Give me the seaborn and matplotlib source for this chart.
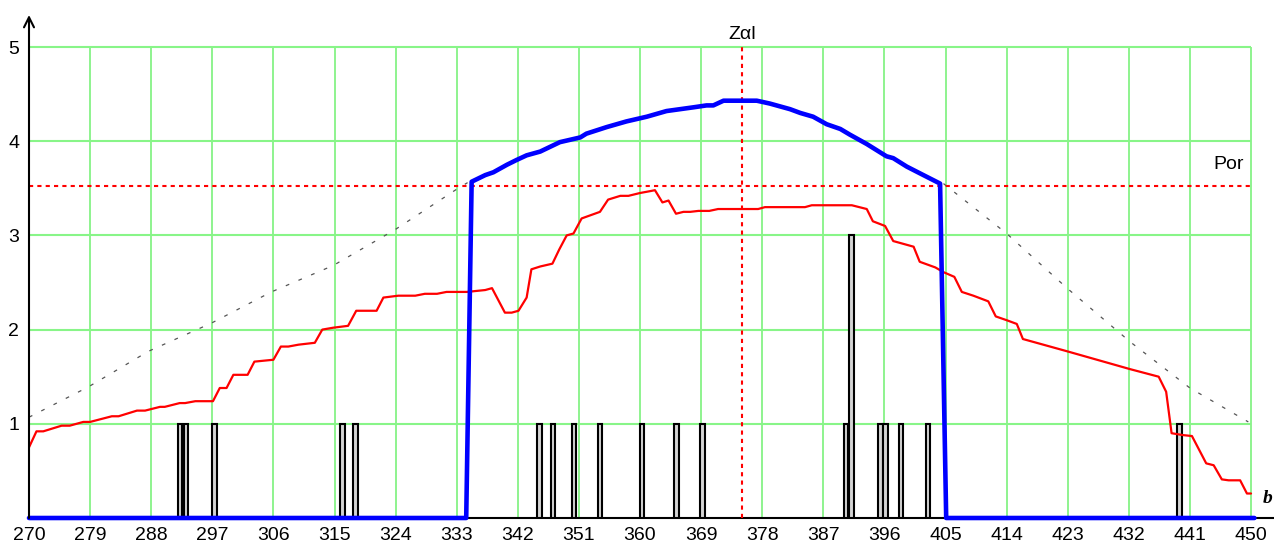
import matplotlib
matplotlib.use("Agg")
import matplotlib.pyplot as plt
import seaborn as sns
import pandas as pd

# ---------------- data ----------------
x_ticks = list(range(270, 451, 9))
y_ticks = [0, 1, 2, 3, 4, 5]
y_ticklabels = ["", "1", "2", "3", "4", "5"]

por_level = 3.525
z_al = 375

blue_x = [270, 334.4, 335.2, 337.2, 338.4, 340.4, 341.8, 343.3, 345.3, 348.2, 351.2, 352.1,
          355.1, 358.0, 361.0, 363.9, 365.9, 367.9, 369.8, 370.8, 372.3, 377.2, 379.1, 382.1,
          383.6, 385.5, 387.5, 389.5, 390.9, 393.4, 396.3, 397.3, 399.3, 401.2, 404.2, 405.1, 450.5]
blue_y = [0, 0, 3.57, 3.64, 3.67, 3.75, 3.80, 3.85, 3.89, 3.99, 4.04, 4.08,
          4.15, 4.21, 4.26, 4.32, 4.34, 4.36, 4.38, 4.38, 4.43, 4.43, 4.40, 4.34,
          4.30, 4.26, 4.18, 4.13, 4.07, 3.97, 3.84, 3.82, 3.73, 3.66, 3.55, 0, 0]

red_x = [270, 271.1, 272.1, 274.8, 276.0, 278.0, 279.0, 282.2, 283.2, 285.9, 287.1, 289.3,
         290.0, 292.2, 293.0, 294.5, 297.1, 298.1, 299.1, 300.1, 302.2, 303.2, 306.0, 307.1,
         308.2, 309.7, 312.1, 313.2, 314.8, 317.0, 318.2, 321.2, 322.2, 324.4, 326.9, 328.3,
         330.1, 331.5, 334.5, 337.2, 338.2, 340.1, 341.1, 342.1, 343.3, 344.0, 345.3, 347.1,
         348.1, 349.2, 350.2, 351.4, 354.1, 355.3, 357.1, 358.3, 360.0, 361.5, 362.2, 363.3,
         364.2, 365.3, 366.4, 367.4, 368.6, 370.2, 371.5, 377.4, 378.4, 384.3, 385.3, 391.2,
         393.4, 394.3, 396.1, 397.3, 400.3, 401.2, 403.5, 404.7, 406.3, 407.4, 409.1, 411.3,
         412.4, 414.0, 415.5, 416.4, 422.9, 432.2, 436.4, 437.5, 438.3, 440.0, 441.3, 443.4,
         444.5, 445.7, 446.7, 448.4, 449.4, 450]
red_y = [0.75, 0.92, 0.92, 0.98, 0.98, 1.02, 1.02, 1.08, 1.08, 1.14, 1.14, 1.18,
         1.18, 1.22, 1.22, 1.24, 1.24, 1.38, 1.38, 1.52, 1.52, 1.66, 1.68, 1.82,
         1.82, 1.84, 1.86, 2.00, 2.02, 2.04, 2.20, 2.20, 2.34, 2.36, 2.36, 2.38,
         2.38, 2.40, 2.40, 2.42, 2.44, 2.18, 2.18, 2.20, 2.34, 2.64, 2.67, 2.70,
         2.85, 3.00, 3.02, 3.18, 3.25, 3.38, 3.42, 3.42, 3.45, 3.47, 3.48, 3.35,
         3.37, 3.23, 3.25, 3.25, 3.26, 3.26, 3.28, 3.28, 3.30, 3.30, 3.32, 3.32,
         3.28, 3.15, 3.10, 2.94, 2.88, 2.72, 2.66, 2.61, 2.56, 2.40, 2.36, 2.30,
         2.14, 2.10, 2.06, 1.90, 1.77, 1.58, 1.50, 1.34, 0.90, 0.88, 0.87, 0.58,
         0.56, 0.41, 0.40, 0.40, 0.26, 0.26]

grey_left_x = [270, 278.7, 287.6, 296.9, 305.7, 314.8, 323.9, 333.2, 334.6]
grey_left_y = [1.07, 1.39, 1.77, 2.07, 2.40, 2.68, 3.06, 3.50, 3.56]
grey_right_x = [404.7, 414.0, 422.9, 432.2, 441.0, 449.6]
grey_right_y = [3.55, 3.02, 2.44, 1.87, 1.38, 1.02]

bar_x = [292.2, 293.15, 297.3, 316.2, 318.1, 345.2, 347.15, 350.25, 354.1, 360.25,
         365.35, 369.2, 390.35, 391.15, 395.4, 396.15, 398.45, 402.4, 439.45]
bar_h = [1, 1, 1, 1, 1, 1, 1, 1, 1, 1,
         1, 1, 1, 3, 1, 1, 1, 1, 1]

# ---------------- figure ----------------
sns.set_style("white")
plt.rcParams["font.family"] = ["Liberation Sans", "DejaVu Sans"]

W, H = 1274, 543
fig = plt.figure(figsize=(W / 100, H / 100), dpi=100)
px_per_x = 6.789
px_per_y = 94.2
ax = fig.add_axes([29 / W, 25 / H, 1245 / W, 503 / H])
ax.set_xlim(270, 270 + 1245 / px_per_x)
ax.set_ylim(0, 503 / px_per_y)

green = "#70f070"
ax.vlines(x_ticks[1:], 0, 5, colors=green, lw=1.1, zorder=0)
ax.hlines(y_ticks[1:], 270, 450, colors="#88f588", lw=1.5, zorder=0)

# bars
ax.bar(bar_x, bar_h, width=0.64, color="#d4d4d4", edgecolor="black", linewidth=1.5, zorder=2)

# grey dotted envelope
df_gl = pd.DataFrame({"x": grey_left_x, "y": grey_left_y})
df_gr = pd.DataFrame({"x": grey_right_x, "y": grey_right_y})
for d in (df_gl, df_gr):
    sns.lineplot(data=d, x="x", y="y", ax=ax, color="#555555", lw=0.9,
                 estimator=None, sort=False, zorder=3)
    ax.lines[-1].set_dashes((3, 8))

# red dotted reference lines
ax.hlines(por_level, 270, 450, colors="red", linestyles=(0, (2, 2)), lw=1.5, zorder=3)
ax.vlines(z_al, 0, 5, colors="red", linestyles=(0, (2, 2)), lw=1.5, zorder=3)

# red line
df_r = pd.DataFrame({"x": red_x, "y": red_y})
sns.lineplot(data=df_r, x="x", y="y", ax=ax, color="red", lw=1.6,
             estimator=None, sort=False, zorder=4)

# blue line
df_b = pd.DataFrame({"x": blue_x, "y": blue_y})
sns.lineplot(data=df_b, x="x", y="y", ax=ax, color="#0000ff", lw=3.3,
             estimator=None, sort=False, zorder=5)
ax.lines[-1].set_clip_on(False)
ax.lines[-1].set_solid_joinstyle("round")

# axes styling
for s in ("top", "right", "left"):
    ax.spines[s].set_visible(False)
ax.spines["bottom"].set_color("black")
ax.spines["bottom"].set_linewidth(1.5)
ax.spines["bottom"].set_zorder(1)

ax.set_xticks(x_ticks)
ax.set_xticklabels([str(v) for v in x_ticks])
ax.set_yticks(y_ticks)
ax.set_yticklabels(y_ticklabels)
ax.tick_params(axis="x", direction="inout", length=9, width=1.5, pad=2, labelsize=14, colors="black")
ax.tick_params(axis="y", direction="inout", length=12, width=1.5, pad=1, labelsize=14, colors="black")
ax.set_xlabel("")
ax.set_ylabel("")
ax.grid(False)

# y axis with arrow
ax.annotate("", xy=(270, 503 / px_per_y), xytext=(270, 0),
            arrowprops=dict(arrowstyle="->", lw=1.5, color="black",
                            mutation_scale=18, shrinkA=0, shrinkB=0),
            annotation_clip=False, zorder=6)

# texts
ax.text(z_al, 5.04, "Zαl", ha="center", va="bottom", fontsize=14, color="black")
ax.text(449.0, 3.75, "Por", ha="right", va="center", fontsize=14, color="black")
ax.text(452.5, 0.12, "b", ha="center", va="bottom", fontsize=14, color="black",
        family=["Liberation Serif", "DejaVu Serif"], fontweight="bold", fontstyle="italic",
        clip_on=False)

fig.savefig("out.png", dpi=100)
